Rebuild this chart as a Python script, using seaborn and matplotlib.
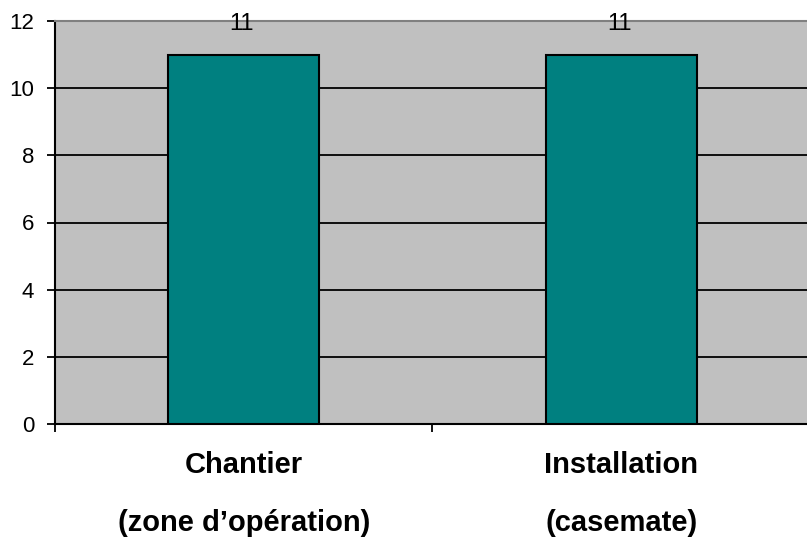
import matplotlib
matplotlib.use("Agg")
import matplotlib.pyplot as plt
import matplotlib.transforms as mtransforms
import seaborn as sns
import pandas as pd

categories = ["Chantier", "Installation"]
subtitles = ["(zone d\u2019opération)", "(casemate)"]
values = [11, 11]
y_ticks = [0, 2, 4, 6, 8, 10, 12]

sns.set_style("white")
plt.rcParams["font.family"] = ["Liberation Sans", "DejaVu Sans"]
plt.rcParams["text.color"] = "black"
plt.rcParams["xtick.color"] = "black"
plt.rcParams["ytick.color"] = "black"

fig = plt.figure(figsize=(8.07, 5.39), dpi=100)
ax = fig.add_axes([55 / 807, (539 - 424) / 539, (810 - 55) / 807, (424 - 21) / 539])
ax.set_facecolor("#C0C0C0")

df = pd.DataFrame({"cat": categories, "val": values})
sns.barplot(data=df, x="cat", y="val", ax=ax, color="#008080", width=0.4,
            edgecolor="black", linewidth=1.5, saturation=1, zorder=3)

ax.set_ylim(0, 12)
ax.set_xlim(-0.5, 1.5)
ax.set_yticks(y_ticks)
ax.yaxis.grid(True, color="black", linewidth=1.3, zorder=0)
ax.set_axisbelow(True)
ax.tick_params(axis="y", length=6, width=1.3, color="black", labelsize=16, pad=9,
               direction="out", left=True, labelcolor="black")

# category boundaries carry the tick marks; names sit centred in each category
ax.set_xticks([-0.5, 0.5, 1.5])
ax.set_xticklabels(["", "", ""])
ax.tick_params(axis="x", which="major", length=6, width=1.3, color="black",
               direction="out", bottom=True)
ax.set_xlabel("")
ax.set_ylabel("")

trans = mtransforms.blended_transform_factory(ax.transData, fig.transFigure)
for i, (name, sub) in enumerate(zip(categories, subtitles)):
    ax.text(i, 1 - 465 / 539, name, transform=trans, ha="center", va="center",
            fontsize=21, fontweight="bold", color="black")
    ax.text(i, 1 - 523 / 539, sub, transform=trans, ha="center", va="center",
            fontsize=21, fontweight="bold", color="black")

for spine in ["left", "bottom"]:
    ax.spines[spine].set_color("black")
    ax.spines[spine].set_linewidth(1.5)
ax.spines["top"].set_color("#808080")
ax.spines["top"].set_linewidth(1.5)
ax.spines["right"].set_visible(False)

for i, v in enumerate(values):
    ax.text(i - 0.005, 11.91, f"{v}", ha="center", va="center", fontsize=17,
            color="black", zorder=4)

fig.savefig("out.png", dpi=100)
